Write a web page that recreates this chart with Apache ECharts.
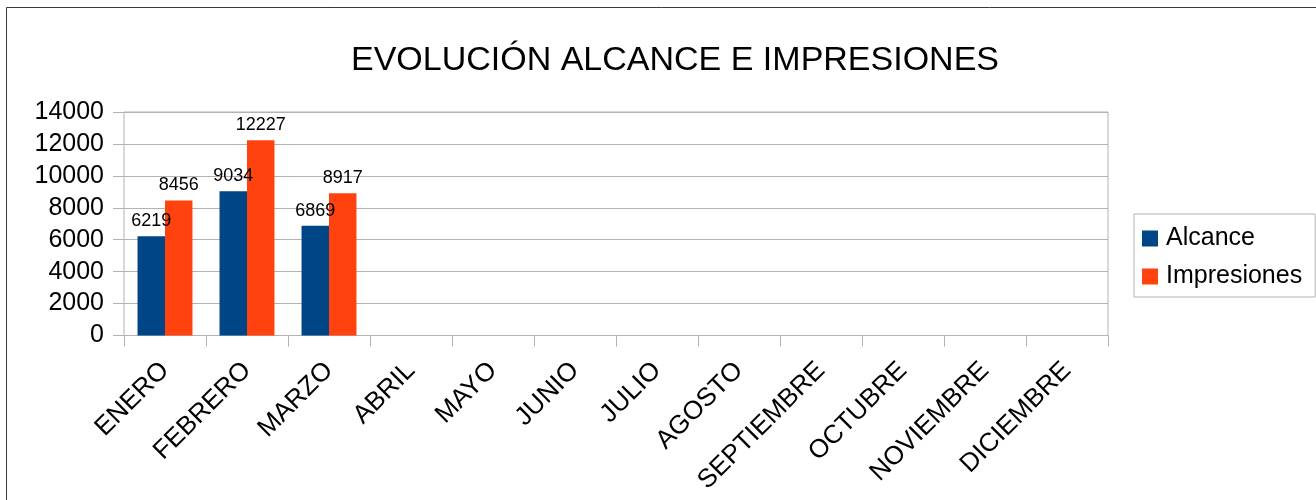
<!DOCTYPE html>
<html><head><meta charset="utf-8">
<script src="https://cdn.jsdelivr.net/npm/echarts@6/dist/echarts.min.js"></script>
<style>html,body{margin:0;padding:0;background:#fff}#c{width:1316px;height:500px}</style>
</head><body><div id="c"></div>
<script>
const categories = ['ENERO','FEBRERO','MARZO','ABRIL','MAYO','JUNIO','JULIO','AGOSTO','SEPTIEMBRE','OCTUBRE','NOVIEMBRE','DICIEMBRE'];
const alcance = [6219, 9034, 6869, null, null, null, null, null, null, null, null, null];
const impresiones = [8456, 12227, 8917, null, null, null, null, null, null, null, null, null];
const titleText = 'EVOLUCIÓN ALCANCE E IMPRESIONES';
const seriesNames = ['Alcance', 'Impresiones'];

const FONT = '"Liberation Sans", Arial, sans-serif';
const chart = echarts.init(document.getElementById('c'), null, {renderer: 'canvas'});
const labelCfg = {show: true, position: 'top', distance: 6, color: '#000', fontSize: 18, fontFamily: FONT};
chart.setOption({
  animation: false,
  textStyle: {fontFamily: FONT},
  graphic: [{
    type: 'rect', shape: {x: 6.5, y: 7.5, width: 1400, height: 600},
    style: {fill: 'none', stroke: '#3a3a3a', lineWidth: 1}, silent: true, z: -10
  }],
  title: {
    text: titleText, left: 670, top: 39, textAlign: 'center',
    textStyle: {fontFamily: FONT, fontSize: 34, fontWeight: 'normal', color: '#000'}
  },
  legend: {
    orient: 'vertical', left: 1134, top: 214,
    padding: [12, 13, 8, 8],
    borderColor: '#b3b3b3', borderWidth: 1,
    itemWidth: 16, itemHeight: 16, itemGap: 13,
    icon: 'rect',
    textStyle: {fontFamily: FONT, fontSize: 25, color: '#000', padding: [0, 0, 0, 3]},
    data: seriesNames
  },
  grid: {left: 124, right: 208, top: 112, bottom: 164.5, show: true, borderColor: '#b3b3b3', borderWidth: 1, containLabel: false},
  xAxis: {
    type: 'category', data: categories,
    axisLine: {lineStyle: {color: '#b3b3b3'}},
    axisTick: {show: true, length: 11, lineStyle: {color: '#b3b3b3'}},
    axisLabel: {rotate: 45, interval: 0, margin: 31, color: '#000', fontSize: 26, fontFamily: FONT}
  },
  yAxis: {
    type: 'value', min: 0, max: 14000, interval: 2000,
    axisLine: {show: false},
    axisTick: {show: true, length: 11, lineStyle: {color: '#b3b3b3'}},
    splitLine: {lineStyle: {color: '#b3b3b3'}},
    axisLabel: {margin: 20, color: '#000', fontSize: 25, fontFamily: FONT, formatter: v => String(v)}
  },
  series: [
    {name: seriesNames[0], type: 'bar', data: alcance, barGap: '0%', barCategoryGap: '33%',
     itemStyle: {color: '#004586'}, label: labelCfg},
    {name: seriesNames[1], type: 'bar', data: impresiones, barGap: '0%', barCategoryGap: '33%',
     itemStyle: {color: '#ff420e'}, label: labelCfg}
  ]
});
</script></body></html>
